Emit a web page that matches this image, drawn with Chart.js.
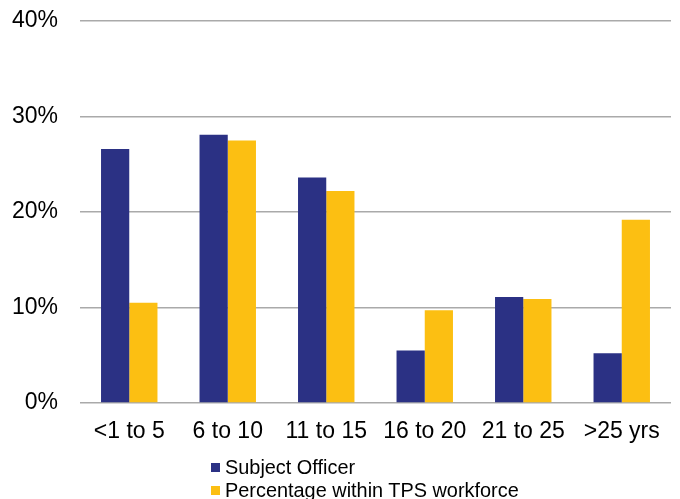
<!DOCTYPE html>
<html>
<head>
<meta charset="utf-8">
<script src="https://cdn.jsdelivr.net/npm/chart.js@4/dist/chart.umd.min.js"></script>
<style>
  html, body { margin: 0; padding: 0; background: #fff; }
  #wrap { position: relative; width: 680px; height: 499px; }
  #chart { position: absolute; left: 0; top: 0; }
  #legend { position: absolute; left: 211px; top: 456px; font-family: "Liberation Sans", Arial, sans-serif; font-size: 19.9px; color: #000; line-height: 23px; }
  #legend .item { display: flex; align-items: center; white-space: nowrap; }
  #legend .box { width: 9px; height: 9px; margin-right: 5px; display: inline-block; }
</style>
</head>
<body>
<div id="wrap">
  <canvas id="chart" width="680" height="499"></canvas>
  <div id="legend"></div>
</div>
<script>
// Years of service bands
const categories = ['<1 to 5', '6 to 10', '11 to 15', '16 to 20', '21 to 25', '>25 yrs'];
// Share of subject officers in each band (%)
const subjectOfficer = [26.6, 28.1, 23.6, 5.5, 11.1, 5.2];
// Share of the TPS workforce in each band (%)
const tpsWorkforce = [10.5, 27.5, 22.2, 9.7, 10.9, 19.2];
// Value-axis ticks (%)
const yTicks = [0, 10, 20, 30, 40];

const seriesNames = ['Subject Officer', 'Percentage within TPS workforce'];
const seriesColors = ['#2b3184', '#fcbf12'];

const FONT = '"Liberation Sans", Arial, sans-serif';

const chart = new Chart(document.getElementById('chart'), {
  type: 'bar',
  data: {
    labels: categories,
    datasets: [
      { label: seriesNames[0], data: subjectOfficer, backgroundColor: seriesColors[0] },
      { label: seriesNames[1], data: tpsWorkforce, backgroundColor: seriesColors[1] }
    ]
  },
  options: {
    responsive: false,
    animation: false,
    events: [],
    layout: { padding: { top: 21, right: 9, left: 0, bottom: 0 } },
    datasets: { bar: { categoryPercentage: 0.573, barPercentage: 1.0 } },
    plugins: { legend: { display: false }, tooltip: { enabled: false } },
    scales: {
      x: {
        grid: { display: false, drawTicks: false },
        border: { display: false },
        ticks: { color: '#000', font: { family: FONT, size: 23 }, padding: 15, maxRotation: 0, autoSkip: false },
        afterFit: (s) => { s.height = 96; }
      },
      y: {
        min: 0,
        max: 40,
        afterBuildTicks: (s) => { s.ticks = yTicks.map(v => ({ value: v })); },
        grid: { color: '#aaaaaa', lineWidth: 1.6, drawTicks: false },
        border: { display: false },
        ticks: { color: '#000', font: { family: FONT, size: 23 }, padding: 22, callback: (v) => v + '%' },
        afterFit: (s) => { s.width = 80; s.paddingTop = 0; s.paddingBottom = 0; }
      }
    }
  }
});

// Legend listed vertically beneath the axis
const legend = document.getElementById('legend');
chart.data.datasets.forEach((ds) => {
  const item = document.createElement('div');
  item.className = 'item';
  const box = document.createElement('span');
  box.className = 'box';
  box.style.background = ds.backgroundColor;
  const txt = document.createElement('span');
  txt.textContent = ds.label;
  item.appendChild(box);
  item.appendChild(txt);
  legend.appendChild(item);
});
</script>
</body>
</html>
